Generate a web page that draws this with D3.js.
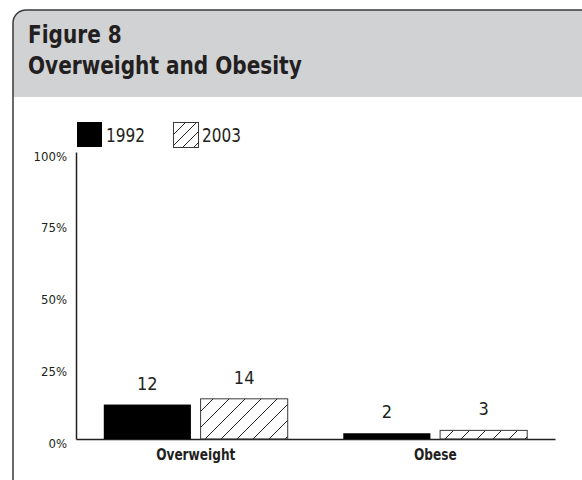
<!DOCTYPE html>
<html>
<head>
<meta charset="utf-8">
<script src="https://cdn.jsdelivr.net/npm/d3@7"></script>
<style>
  body { margin: 0; background: #fff; }
  text { font-family: "Liberation Sans Narrow", "DejaVu Sans Condensed", "Liberation Sans", sans-serif; fill: #231f20; }
</style>
</head>
<body>
<div id="chart"></div>
<script>
// chart data
var categories = ["Overweight", "Obese"];
var years = ["1992", "2003"];
var values1992 = [12, 2];
var values2003 = [14, 3];
var yTicks = [0, 25, 50, 75, 100];

var svgWidth = 582;
var svgHeight = 480;

var margin = { top: 152, right: 27, bottom: 41, left: 76 };
var width = svgWidth - margin.left - margin.right;
var height = svgHeight - margin.top - margin.bottom;

var svg = d3.select("#chart")
  .append("svg")
  .attr("width", svgWidth)
  .attr("height", svgHeight);

// squeeze text a bit to mimic the narrow print font
function condense(sel, k) {
  sel.each(function() {
    var w = this.getComputedTextLength();
    d3.select(this)
      .attr("textLength", w * k)
      .attr("lengthAdjust", "spacingAndGlyphs");
  });
}

// hatch pattern for 2003
var defs = svg.append("defs");
defs.append("pattern")
  .attr("id", "hatch")
  .attr("patternUnits", "userSpaceOnUse")
  .attr("width", 16)
  .attr("height", 16)
  .append("path")
  .attr("d", "M0,16 L16,0 M-4,4 L4,-4 M12,20 L20,12")
  .attr("stroke", "#231f20")
  .attr("stroke-width", 1);

defs.append("pattern")
  .attr("id", "hatchSmall")
  .attr("patternUnits", "userSpaceOnUse")
  .attr("width", 11)
  .attr("height", 11)
  .append("path")
  .attr("d", "M0,11 L11,0 M-3,3 L3,-3 M8,14 L14,8")
  .attr("stroke", "#231f20")
  .attr("stroke-width", 1);

// header panel and frame
svg.append("path")
  .attr("d", "M13,97 V23 A13,13 0 0 1 26,10 H582 V97 Z")
  .attr("fill", "#d1d2d4");

svg.append("path")
  .attr("d", "M13,480 V23 A13,13 0 0 1 26,10 H582")
  .attr("fill", "none")
  .attr("stroke", "#3a3a3a")
  .attr("stroke-width", 1.5);

var titles = svg.append("g");
titles.append("text")
  .attr("x", 28)
  .attr("y", 43)
  .attr("font-size", "24px")
  .attr("font-weight", "bold")
  .text("Figure 8");

titles.append("text")
  .attr("x", 28)
  .attr("y", 74)
  .attr("font-size", "24px")
  .attr("font-weight", "bold")
  .text("Overweight and Obesity");
condense(titles.selectAll("text"), 0.93);

var chartGroup = svg.append("g")
  .attr("transform", `translate(${margin.left}, ${margin.top})`);

// scales
var x0 = d3.scaleBand()
  .domain(categories)
  .range([0, width])
  .paddingInner(0.232)
  .paddingOuter(0.116);

var x1 = d3.scaleBand()
  .domain(years)
  .range([0, x0.bandwidth()])
  .paddingInner(0.1);

var yLinearScale = d3.scaleLinear()
  .domain([0, 100])
  .range([height, 0]);

// axes
var leftAxis = d3.axisLeft(yLinearScale)
  .tickValues(yTicks)
  .tickFormat(d => d + "%")
  .tickSize(0)
  .tickPadding(9);

var yAxis = chartGroup.append("g").call(leftAxis);
yAxis.select(".domain").attr("stroke", "#231f20").attr("stroke-width", 1.5);
yAxis.selectAll("text")
  .attr("dy", "0.62em")
  .attr("font-size", "13px")
  .attr("font-family", null)
  .style("fill", "#231f20");
yAxis.attr("font-family", null).attr("font-size", null);

var bottomAxis = d3.axisBottom(x0)
  .tickSize(0)
  .tickPadding(10);

var xAxis = chartGroup.append("g")
  .attr("transform", `translate(0, ${height})`)
  .call(bottomAxis);
xAxis.attr("font-family", null).attr("font-size", null);
xAxis.select(".domain").attr("stroke", "#231f20").attr("stroke-width", 1.5);
xAxis.selectAll("text")
  .attr("font-size", "15px")
  .attr("font-weight", "bold")
  .style("fill", "#231f20");
condense(xAxis.selectAll("text"), 0.9);

// bars
var barData = [];
categories.forEach(function(c, i) {
  barData.push({ cat: c, year: "1992", value: values1992[i] });
  barData.push({ cat: c, year: "2003", value: values2003[i] });
});

chartGroup.selectAll("rect.bar")
  .data(barData)
  .enter()
  .append("rect")
  .attr("class", "bar")
  .attr("x", d => x0(d.cat) + x1(d.year))
  .attr("y", d => yLinearScale(d.value))
  .attr("width", x1.bandwidth())
  .attr("height", d => height - yLinearScale(d.value))
  .attr("fill", d => d.year === "1992" ? "#000" : "url(#hatch)")
  .attr("stroke", d => d.year === "1992" ? "none" : "#3a3a3a")
  .attr("stroke-width", 1);

chartGroup.selectAll("text.value")
  .data(barData)
  .enter()
  .append("text")
  .attr("class", "value")
  .attr("x", d => x0(d.cat) + x1(d.year) + x1.bandwidth() / 2)
  .attr("y", d => yLinearScale(d.value) - 15)
  .attr("text-anchor", "middle")
  .attr("font-size", "18px")
  .text(d => d.value);

// legend
var legend = svg.append("g");
legend.append("rect")
  .attr("x", 77).attr("y", 122)
  .attr("width", 25).attr("height", 25)
  .attr("fill", "#000");
legend.append("text")
  .attr("x", 106).attr("y", 142)
  .attr("font-size", "20px")
  .text(years[0]);
legend.append("rect")
  .attr("x", 173.5).attr("y", 122.5)
  .attr("width", 25).attr("height", 25)
  .attr("fill", "url(#hatchSmall)")
  .attr("stroke", "#3a3a3a")
  .attr("stroke-width", 1);
legend.append("text")
  .attr("x", 202).attr("y", 142)
  .attr("font-size", "20px")
  .text(years[1]);
condense(legend.selectAll("text"), 0.85);
</script>
</body>
</html>
